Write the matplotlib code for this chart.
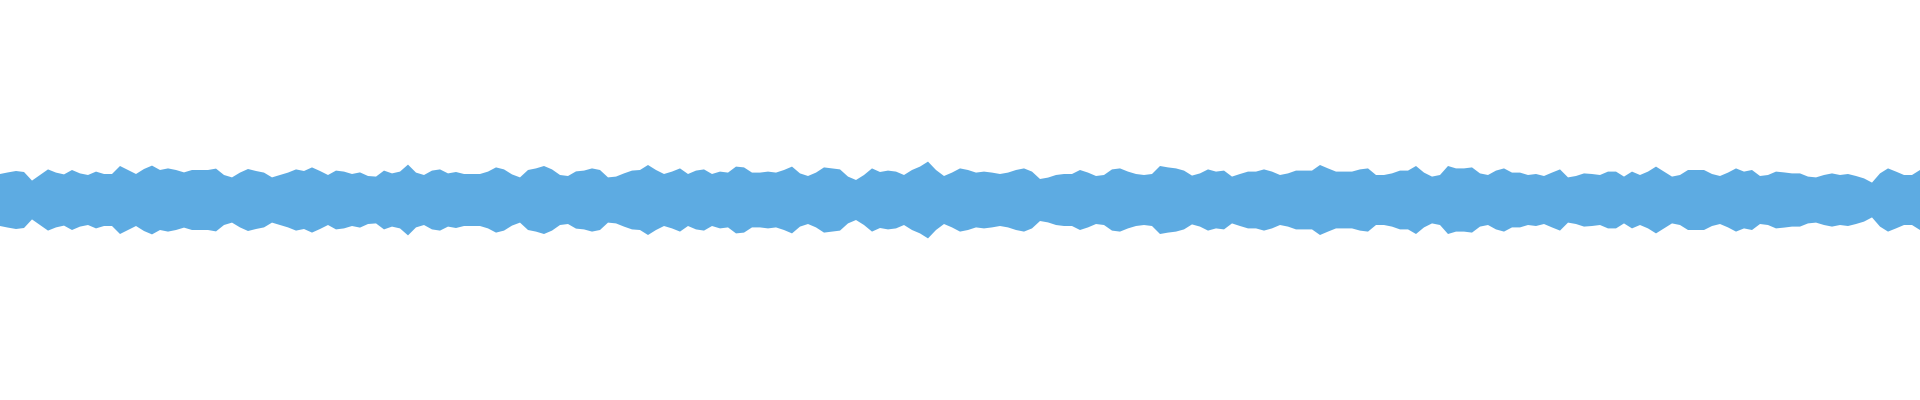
import numpy as np
import matplotlib
matplotlib.use("Agg")
import matplotlib.pyplot as plt

# Waveform peak envelope (normalized amplitude, 0..1), sampled uniformly across the track
peaks = [
    0.130, 0.138, 0.145, 0.140, 0.097, 0.125, 0.153, 0.137, 0.128, 0.150, 0.133, 0.125,
    0.142, 0.130, 0.130, 0.170, 0.150, 0.130, 0.155, 0.172, 0.150, 0.158, 0.150, 0.138,
    0.150, 0.150, 0.150, 0.157, 0.125, 0.113, 0.137, 0.155, 0.145, 0.137, 0.113, 0.125,
    0.137, 0.153, 0.145, 0.163, 0.145, 0.125, 0.147, 0.142, 0.130, 0.138, 0.120, 0.117,
    0.147, 0.133, 0.142, 0.177, 0.137, 0.125, 0.147, 0.153, 0.133, 0.140, 0.130, 0.130,
    0.130, 0.142, 0.163, 0.153, 0.128, 0.113, 0.150, 0.158, 0.170, 0.153, 0.125, 0.120,
    0.143, 0.147, 0.158, 0.150, 0.113, 0.117, 0.133, 0.147, 0.150, 0.175, 0.150, 0.130,
    0.142, 0.158, 0.130, 0.147, 0.153, 0.130, 0.142, 0.137, 0.167, 0.163, 0.137, 0.137,
    0.142, 0.137, 0.150, 0.167, 0.133, 0.120, 0.137, 0.163, 0.158, 0.153, 0.117, 0.100,
    0.125, 0.158, 0.140, 0.147, 0.142, 0.125, 0.150, 0.167, 0.192, 0.150, 0.120, 0.137,
    0.158, 0.150, 0.137, 0.142, 0.137, 0.130, 0.137, 0.150, 0.158, 0.142, 0.105, 0.112,
    0.125, 0.130, 0.130, 0.150, 0.137, 0.120, 0.125, 0.153, 0.158, 0.142, 0.130, 0.125,
    0.130, 0.170, 0.163, 0.158, 0.147, 0.122, 0.133, 0.153, 0.142, 0.147, 0.117, 0.130,
    0.142, 0.142, 0.153, 0.142, 0.125, 0.133, 0.147, 0.147, 0.147, 0.175, 0.158, 0.142,
    0.142, 0.142, 0.153, 0.158, 0.125, 0.125, 0.133, 0.147, 0.147, 0.170, 0.137, 0.117,
    0.125, 0.170, 0.158, 0.158, 0.163, 0.133, 0.125, 0.147, 0.158, 0.137, 0.137, 0.125,
    0.130, 0.120, 0.137, 0.153, 0.113, 0.120, 0.133, 0.130, 0.125, 0.142, 0.142, 0.117,
    0.142, 0.125, 0.142, 0.167, 0.142, 0.117, 0.125, 0.150, 0.150, 0.150, 0.130, 0.120,
    0.137, 0.158, 0.142, 0.150, 0.120, 0.125, 0.142, 0.138, 0.133, 0.133, 0.117, 0.113,
    0.125, 0.133, 0.125, 0.130, 0.120, 0.108, 0.087, 0.133, 0.158, 0.142, 0.125, 0.125,
    0.150,
]

wave_color = "#5dabe2"

peaks_arr = np.array(peaks)
t = np.arange(len(peaks_arr))

fig = plt.figure(figsize=(19.2, 4.0), dpi=100)
ax = fig.add_axes([0, 0, 1, 1])
ax.fill_between(t, -peaks_arr, peaks_arr, color=wave_color, linewidth=0)
ax.set_xlim(t[0], t[-1])
ax.set_ylim(-1, 1)
ax.axis("off")
fig.savefig("out.png", dpi=100, facecolor="white")
